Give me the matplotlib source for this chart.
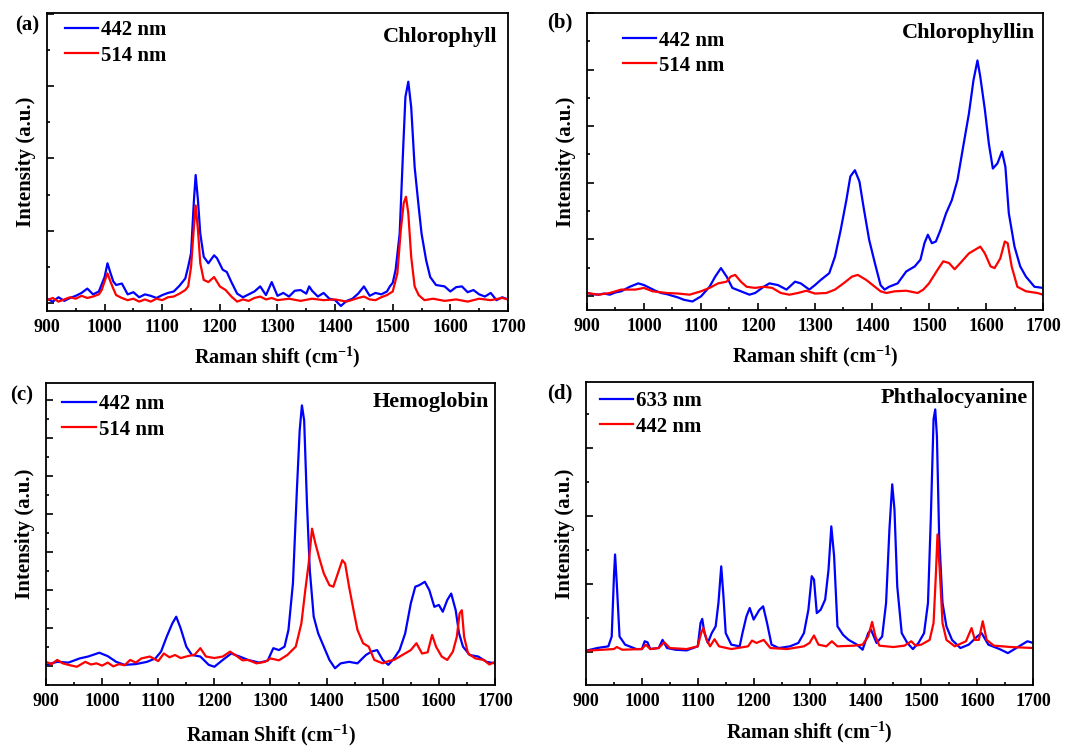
import numpy as np
import matplotlib
matplotlib.use("Agg")
import matplotlib.pyplot as plt
from matplotlib.ticker import MultipleLocator, AutoMinorLocator

plt.rcParams['font.family'] = ['Liberation Serif', 'DejaVu Serif']
plt.rcParams['font.weight'] = 'bold'
plt.rcParams['mathtext.fontset'] = 'custom'
plt.rcParams['mathtext.rm'] = 'Liberation Serif:bold'
plt.rcParams['mathtext.bf'] = 'Liberation Serif:bold'
plt.rcParams['mathtext.default'] = 'rm'

## spectra (intensity in arbitrary units)

# (a) chlorophyll
a_x442 = [900, 910, 920, 930, 940, 950, 960, 970, 980, 990, 1000, 1005, 1010, 1015, 1020, 1030, 1040, 1050,
          1060, 1070, 1080, 1090, 1100, 1110, 1120, 1130, 1140, 1145, 1150, 1155, 1158, 1162, 1166, 1172, 1180,
          1190, 1195, 1205, 1212, 1220, 1230, 1240, 1250, 1260, 1270, 1280, 1290, 1300, 1310, 1320, 1330, 1340,
          1350, 1355, 1360, 1370, 1380, 1390, 1400, 1410, 1420, 1430, 1440, 1450, 1460, 1470, 1480, 1490, 1495,
          1500, 1505, 1512, 1518, 1522, 1527, 1532, 1538, 1545, 1550, 1558, 1565, 1575, 1590, 1600, 1610, 1620,
          1630, 1640, 1650, 1660, 1670, 1680, 1690, 1700]
a_y442 = [0.06, 0.02, 0.08, 0.03, 0.07, 0.10, 0.14, 0.20, 0.12, 0.16, 0.36, 0.55, 0.42, 0.30, 0.25, 0.27, 0.12, 0.15,
          0.08, 0.12, 0.10, 0.07, 0.11, 0.14, 0.16, 0.24, 0.34, 0.50, 0.69, 1.42, 1.77, 1.42, 0.96, 0.64, 0.55,
          0.66, 0.62, 0.46, 0.43, 0.29, 0.13, 0.08, 0.12, 0.16, 0.23, 0.11, 0.29, 0.10, 0.14, 0.09, 0.17, 0.18,
          0.13, 0.23, 0.17, 0.09, 0.14, 0.06, 0.04, -0.04, 0.03, 0.06, 0.13, 0.23, 0.10, 0.14, 0.12, 0.16, 0.23,
          0.28, 0.46, 0.96, 2.12, 2.85, 3.06, 2.71, 1.88, 1.33, 0.96, 0.59, 0.36, 0.25, 0.23, 0.16, 0.22, 0.23,
          0.15, 0.18, 0.12, 0.09, 0.14, 0.04, 0.08, 0.05]
a_x514 = [900, 910, 920, 930, 940, 950, 960, 970, 980, 990, 995, 1000, 1005, 1010, 1015, 1020, 1030, 1040, 1050,
          1060, 1070, 1080, 1090, 1100, 1110, 1120, 1130, 1140, 1145, 1150, 1155, 1158, 1162, 1166, 1172, 1180,
          1190, 1200, 1210, 1220, 1230, 1240, 1250, 1260, 1270, 1280, 1290, 1300, 1320, 1340, 1360, 1380, 1400,
          1420, 1440, 1450, 1460, 1470, 1480, 1490, 1500, 1508, 1514, 1519, 1523, 1527, 1532, 1538, 1545, 1555,
          1570, 1590, 1610, 1630, 1650, 1670, 1690, 1700]
a_y514 = [0.04, 0.07, 0.02, 0.05, 0.08, 0.06, 0.10, 0.07, 0.09, 0.12, 0.18, 0.30, 0.41, 0.30, 0.20, 0.11, 0.07, 0.04, 0.06,
          0.02, 0.05, 0.02, 0.06, 0.04, 0.08, 0.09, 0.13, 0.18, 0.23, 0.50, 1.06, 1.35, 1.01, 0.55, 0.32, 0.29,
          0.36, 0.23, 0.18, 0.09, 0.02, 0.05, 0.03, 0.07, 0.09, 0.05, 0.07, 0.04, 0.06, 0.03, 0.06, 0.04, 0.05,
          0.02, 0.07, 0.09, 0.05, 0.04, 0.08, 0.11, 0.16, 0.41, 1.01, 1.38, 1.47, 1.24, 0.64, 0.23, 0.11, 0.04,
          0.06, 0.03, 0.05, 0.02, 0.06, 0.04, 0.07, 0.05]

# (b) chlorophyllin
b_x442 = [900, 910, 920, 930, 940, 950, 960, 975, 990, 1000, 1010, 1020, 1030, 1040, 1050, 1060, 1070, 1085, 1100,
          1115, 1125, 1135, 1145, 1155, 1170, 1185, 1195, 1210, 1220, 1235, 1250, 1265, 1275, 1290, 1300, 1310,
          1325, 1335, 1345, 1355, 1362, 1370, 1378, 1385, 1395, 1405, 1415, 1422, 1430, 1445, 1460, 1475, 1485,
          1492, 1498, 1505, 1512, 1520, 1530, 1540, 1550, 1560, 1570, 1578, 1585, 1590, 1598, 1605, 1612, 1620,
          1628, 1634, 1640, 1650, 1660, 1670, 1685, 1700]
b_y442 = [0.05, 0.03, 0.02, 0.04, 0.02, 0.06, 0.08, 0.16, 0.22, 0.19, 0.14, 0.09, 0.05, 0.03, 0.00, -0.03, -0.07, -0.10, -0.01,
          0.16, 0.34, 0.49, 0.34, 0.14, 0.08, 0.02, 0.05, 0.16, 0.22, 0.19, 0.11, 0.25, 0.22, 0.11, 0.19, 0.28,
          0.40, 0.69, 1.16, 1.69, 2.11, 2.22, 2.02, 1.58, 0.99, 0.58, 0.19, 0.11, 0.16, 0.22, 0.43, 0.52, 0.64,
          0.93, 1.08, 0.93, 0.96, 1.16, 1.46, 1.69, 2.05, 2.64, 3.22, 3.81, 4.16, 3.87, 3.29, 2.69, 2.25, 2.34,
          2.55, 2.28, 1.46, 0.87, 0.52, 0.34, 0.16, 0.14]
b_x514 = [900, 920, 940, 960, 985, 1000, 1015, 1040, 1060, 1080, 1100, 1115, 1130, 1145, 1152, 1160, 1170, 1180,
          1195, 1210, 1225, 1240, 1255, 1270, 1285, 1300, 1320, 1335, 1350, 1365, 1375, 1390, 1405, 1415, 1425,
          1440, 1460, 1480, 1490, 1500, 1515, 1525, 1535, 1545, 1555, 1570, 1580, 1590, 1598, 1608, 1615, 1625,
          1633, 1638, 1645, 1655, 1670, 1690, 1700]
b_y514 = [0.05, 0.02, 0.05, 0.11, 0.11, 0.14, 0.08, 0.05, 0.04, 0.02, 0.08, 0.14, 0.22, 0.25, 0.34, 0.37, 0.25, 0.16,
          0.14, 0.16, 0.14, 0.05, 0.02, 0.05, 0.09, 0.04, 0.05, 0.11, 0.22, 0.34, 0.37, 0.28, 0.16, 0.08, 0.05,
          0.08, 0.09, 0.05, 0.11, 0.22, 0.46, 0.61, 0.58, 0.47, 0.58, 0.75, 0.81, 0.87, 0.75, 0.52, 0.49, 0.66,
          0.96, 0.93, 0.52, 0.16, 0.08, 0.05, 0.02]

# (c) hemoglobin
c_x442 = [900, 920, 940, 960, 975, 995, 1010, 1025, 1040, 1060, 1080, 1095, 1105, 1115, 1125, 1132, 1140, 1150,
          1160, 1175, 1190, 1200, 1215, 1230, 1245, 1260, 1280, 1295, 1305, 1315, 1325, 1332, 1340, 1347, 1352,
          1356, 1360, 1365, 1370, 1377, 1385, 1395, 1405, 1415, 1425, 1440, 1455, 1470, 1480, 1490, 1500, 1510,
          1520, 1530, 1540, 1550, 1558, 1565, 1575, 1583, 1592, 1600, 1607, 1615, 1622, 1630, 1636, 1643, 1655,
          1670, 1685, 1700]
c_y442 = [0.02, 0.10, 0.08, 0.19, 0.24, 0.34, 0.25, 0.10, 0.02, 0.04, 0.10, 0.19, 0.37, 0.76, 1.11, 1.29, 0.98, 0.50,
          0.28, 0.24, 0.02, -0.03, 0.15, 0.32, 0.24, 0.15, 0.08, 0.13, 0.46, 0.41, 0.50, 0.94, 2.17, 4.62, 6.20,
          6.86, 6.46, 4.27, 2.52, 1.29, 0.85, 0.50, 0.15, -0.07, 0.06, 0.10, 0.06, 0.28, 0.37, 0.41, 0.15, 0.02,
          0.19, 0.41, 0.85, 1.64, 2.08, 2.12, 2.21, 1.99, 1.55, 1.60, 1.42, 1.73, 1.90, 1.46, 0.85, 0.50, 0.28,
          0.24, 0.10, 0.06]
c_x514 = [900, 910, 920, 930, 940, 955, 970, 980, 990, 1000, 1010, 1020, 1030, 1040, 1050, 1060, 1070, 1085, 1100,
          1110, 1120, 1130, 1140, 1150, 1165, 1175, 1185, 1200, 1215, 1228, 1240, 1250, 1260, 1275, 1290, 1300,
          1315, 1330, 1345, 1355, 1362, 1368, 1374, 1380, 1388, 1395, 1405, 1412, 1420, 1428, 1433, 1440, 1448,
          1455, 1465, 1475, 1485, 1500, 1510, 1520, 1535, 1550, 1560, 1570, 1580, 1588, 1595, 1605, 1615, 1625,
          1632, 1637, 1641, 1645, 1652, 1665, 1680, 1690, 1700]
c_y514 = [0.10, 0.04, 0.15, 0.06, 0.02, -0.03, 0.10, 0.03, 0.06, 0.00, 0.08, -0.02, 0.04, 0.01, 0.15, 0.08, 0.19, 0.24, 0.12,
          0.32, 0.22, 0.28, 0.20, 0.24, 0.29, 0.46, 0.24, 0.20, 0.24, 0.37, 0.25, 0.14, 0.15, 0.06, 0.10, 0.19,
          0.14, 0.28, 0.50, 1.11, 1.99, 2.69, 3.61, 3.22, 2.78, 2.43, 2.12, 2.08, 2.43, 2.78, 2.69, 2.08, 1.46,
          0.94, 0.59, 0.50, 0.15, 0.06, 0.12, 0.15, 0.28, 0.41, 0.59, 0.32, 0.35, 0.81, 0.50, 0.24, 0.15, 0.37,
          0.76, 1.38, 1.46, 0.76, 0.32, 0.19, 0.15, 0.03, 0.10]

# (d) phthalocyanine
d_x633 = [900, 920, 940, 946, 950, 952, 955, 960, 970, 990, 1000, 1005, 1010, 1015, 1030, 1037, 1045, 1060, 1080,
          1100, 1105, 1108, 1112, 1118, 1125, 1132, 1137, 1142, 1146, 1150, 1160, 1175, 1180, 1187, 1193, 1200,
          1210, 1217, 1224, 1232, 1245, 1265, 1280, 1290, 1298, 1304, 1308, 1313, 1320, 1328, 1334, 1339, 1344,
          1350, 1360, 1370, 1385, 1395, 1405, 1410, 1420, 1430, 1437, 1443, 1448, 1452, 1457, 1465, 1475, 1485,
          1495, 1505, 1512, 1517, 1522, 1525, 1528, 1532, 1538, 1545, 1555, 1570, 1585, 1600, 1608, 1620, 1640,
          1655, 1670, 1690, 1700]
d_y633 = [0.03, 0.11, 0.16, 0.45, 2.23, 2.87, 2.03, 0.45, 0.21, 0.08, 0.08, 0.31, 0.28, 0.08, 0.11, 0.35, 0.11, 0.06, 0.04,
          0.16, 0.85, 0.97, 0.55, 0.26, 0.55, 0.75, 1.44, 2.52, 1.63, 0.55, 0.21, 0.16, 0.55, 1.04, 1.29, 0.95,
          1.23, 1.34, 0.85, 0.21, 0.11, 0.16, 0.26, 0.55, 1.24, 2.23, 2.13, 1.14, 1.24, 1.54, 2.42, 3.70, 2.82,
          0.75, 0.50, 0.35, 0.21, 0.06, 0.55, 0.65, 0.26, 0.45, 1.44, 3.61, 4.94, 4.20, 1.93, 0.55, 0.26, 0.08,
          0.26, 0.55, 1.44, 3.90, 6.86, 7.15, 6.36, 3.41, 1.44, 0.75, 0.35, 0.11, 0.21, 0.45, 0.55, 0.21, 0.08,
          -0.04, 0.11, 0.31, 0.26]
d_x442 = [900, 950, 955, 965, 1000, 1007, 1015, 1030, 1040, 1050, 1080, 1100, 1106, 1110, 1116, 1122, 1130, 1138,
          1160, 1190, 1197, 1205, 1218, 1230, 1260, 1290, 1300, 1308, 1316, 1330, 1340, 1350, 1380, 1395, 1405,
          1412, 1418, 1425, 1450, 1470, 1482, 1490, 1500, 1515, 1522, 1526, 1529, 1533, 1538, 1545, 1560, 1580,
          1590, 1596, 1603, 1610, 1617, 1630, 1660, 1700]
d_y442 = [0.03, 0.08, 0.14, 0.06, 0.08, 0.21, 0.08, 0.11, 0.28, 0.11, 0.08, 0.16, 0.55, 0.70, 0.35, 0.16, 0.37, 0.16,
          0.08, 0.16, 0.33, 0.26, 0.35, 0.11, 0.08, 0.16, 0.26, 0.48, 0.21, 0.16, 0.31, 0.16, 0.18, 0.21, 0.45,
          0.88, 0.45, 0.18, 0.14, 0.18, 0.31, 0.18, 0.21, 0.35, 0.85, 2.23, 3.46, 2.42, 0.85, 0.35, 0.16, 0.31,
          0.70, 0.35, 0.35, 0.90, 0.35, 0.18, 0.14, 0.11]

panels = [
    ("(a)", "Chlorophyll", "Raman shift (cm$^{-1}$)", a_x442, a_y442, "442 nm", a_x514, a_y514, "514 nm"),
    ("(b)", "Chlorophyllin", "Raman shift (cm$^{-1}$)", b_x442, b_y442, "442 nm", b_x514, b_y514, "514 nm"),
    ("(c)", "Hemoglobin", "Raman Shift (cm$^{-1}$)", c_x442, c_y442, "442 nm", c_x514, c_y514, "514 nm"),
    ("(d)", "Phthalocyanine", "Raman shift (cm$^{-1}$)", d_x633, d_y633, "633 nm", d_x442, d_y442, "442 nm"),
]

# axes boxes, y ranges and tick steps per panel
boxes = [[0.0433, 0.5831, 0.4249, 0.3995],
         [0.5410, 0.5845, 0.4203, 0.3981],
         [0.0424, 0.0818, 0.4138, 0.4048],
         [0.5401, 0.0818, 0.4120, 0.4062]]
ylims = [(-0.11, 4.01), (-0.25, 5.0), (-0.51, 7.45), (-0.98, 7.96)]
ysteps = [1, 1, 1, 2]
title_pos = [(0.976, 0.919), (0.982, 0.933), (0.987, 0.937), (0.989, 0.947)]
leg_pos = [(0.039, 0.975), (0.079, 0.941), (0.036, 0.962), (0.031, 0.969)]
tag_pos = [(27, 25), (560, 22), (22, 395), (560, 393)]
xlab_pad = [6, 6, 9, 7]

fig = plt.figure(figsize=(10.85, 7.46), dpi=100)

for i, (tag, name, xlab, x1, y1, l1, x2, y2, l2) in enumerate(panels):
    ax = fig.add_axes(boxes[i])
    ax.plot(x1, y1, color="#0000ff", lw=1.6, label=l1)
    ax.plot(x2, y2, color="#ff0000", lw=1.6, label=l2)
    ax.set_xlim(900, 1700)
    ax.set_ylim(*ylims[i])
    ax.xaxis.set_major_locator(MultipleLocator(100))
    ax.xaxis.set_minor_locator(MultipleLocator(50))
    ax.yaxis.set_major_locator(MultipleLocator(ysteps[i]))
    ax.yaxis.set_minor_locator(AutoMinorLocator(2))
    ax.tick_params(which="both", direction="in", width=1.2, labelleft=False)
    ax.tick_params(which="major", length=5)
    ax.tick_params(which="minor", length=2.5)
    ax.tick_params(axis="x", labelsize=13, pad=6)
    for lbl in ax.get_xticklabels():
        lbl.set_fontweight("bold")
    for sp in ax.spines.values():
        sp.set_linewidth(1.3)
    ax.set_xlabel(xlab, fontsize=14.5, fontweight="bold", labelpad=xlab_pad[i])
    ax.set_ylabel("Intensity (a.u.)", fontsize=15, fontweight="bold", labelpad=8)
    ax.text(title_pos[i][0], title_pos[i][1], name, transform=ax.transAxes,
            ha="right", va="center", fontsize=16, fontweight="bold")
    ax.legend(loc="upper left", bbox_to_anchor=leg_pos[i], frameon=False, borderpad=0,
              borderaxespad=0, handlelength=1.6, handletextpad=0.15, labelspacing=0.25,
              prop={"size": 15, "weight": "bold"})
    fig.text(tag_pos[i][0] / 1085, 1 - tag_pos[i][1] / 746, tag, ha="center", va="center",
             fontsize=15, fontweight="bold")

fig.savefig("out.png", dpi=100)
